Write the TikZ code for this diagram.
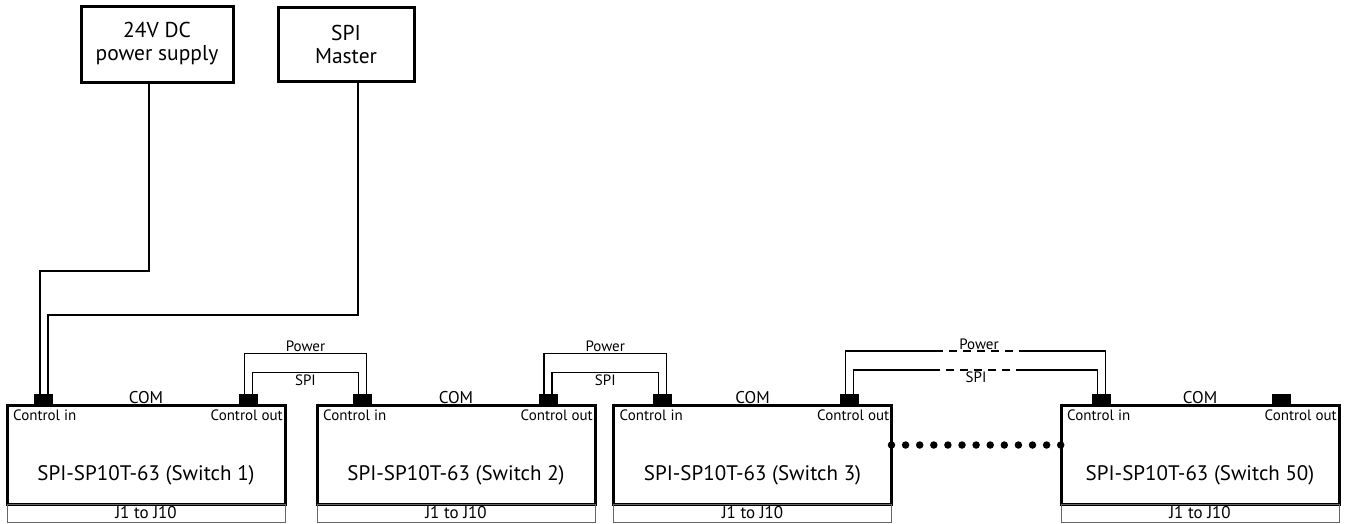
\documentclass[tikz,border=0pt]{standalone}
\usepackage{fontspec}
\setmainfont{PT Sans}
\usetikzlibrary{positioning}
\tikzstyle{switch} = [rectangle, minimum width=278pt, minimum height=99pt, draw=black, line width=3pt, outer sep=0pt]
\tikzstyle{jbox} = [rectangle, minimum width=278pt, minimum height=18pt, draw=black!60, line width=0.8pt, outer sep=0pt, inner sep=0pt, font=\fontsize{17}{17}\selectfont]
\tikzstyle{supply} = [rectangle, draw=black, line width=3pt, align=center, font=\fontsize{21.5}{23}\selectfont]
\tikzstyle{conn} = [rectangle, fill=black, minimum width=19pt, minimum height=11pt, inner sep=0pt, anchor=south]
\tikzstyle{cable} = [line width=1.5pt]
\tikzstyle{feed} = [line width=2pt]
\tikzstyle{small} = [inner sep=1pt, font=\fontsize{15}{16}\selectfont]
\tikzstyle{title} = [font=\fontsize{21}{24}\selectfont]

\begin{document}
\begin{tikzpicture}[x=1pt, y=-1pt]
		\useasboundingbox (0,0) rectangle (1346,523);
		\node (psu) [supply, minimum width=152pt, minimum height=76pt] at (157,44) {24V DC\\power supply};
		\node (spim) [supply, minimum width=136pt, minimum height=74pt] at (346,44) {SPI\\Master};

		\node (sw1) [switch] at (146,454.5) {};
		\node (sw2) [switch] at (456,454.5) {};
		\node (sw3) [switch] at (752.5,454.5) {};
		\node (sw50) [switch] at (1200,454.5) {};

		\foreach \n in {1,2,3,50} {
			\node (t\n) [title] at ([yshift=-21pt]sw\n.center) {SPI-SP10T-63 (Switch \n)};
			\node (j\n) [jbox, below=0pt of sw\n] {J1 to J10};
			\node (com\n) [small, font=\fontsize{17}{17}\selectfont, above=0pt of sw\n] {COM};
			\node (cin\n) [small, below right=4pt and 5pt of sw\n.north west] {Control in};
			\node (cout\n) [small, below left=4pt and 1pt of sw\n.north east] {Control out};
		}

		\node (in1) [conn] at (43.5,405) {};
		\node (out1) [conn] at (248.5,405) {};
		\node (in2) [conn] at (362.5,405) {};
		\node (out2) [conn] at (548,405) {};
		\node (in3) [conn] at (662.5,405) {};
		\node (out3) [conn] at (849.5,405) {};
		\node (in50) [conn] at (1101.5,405) {};
		\node (out50) [conn] at (1281.5,405) {};

		\draw [feed] ([xshift=-8pt]psu.south) -- ++(0,187) -| ([xshift=-4pt]in1.north);
		\draw [feed] ([xshift=12pt]spim.south) -- ++(0,232) -| ([xshift=4pt]in1.north);

		\draw [cable] ([xshift=-4pt]out1.north) -- ++(0,-40) -| node[pos=0.25, above, small] {Power} ([xshift=4pt]in2.north);
		\draw [cable] ([xshift=4pt]out1.north) -- ++(0,-21) -| node[pos=0.25, below, small] {SPI} ([xshift=-4pt]in2.north);
		\draw [cable] ([xshift=-4pt]out2.north) -- ++(0,-40) -| node[pos=0.25, above, small] {Power} ([xshift=4pt]in3.north);
		\draw [cable] ([xshift=4pt]out2.north) -- ++(0,-21) -| node[pos=0.25, below, small] {SPI} ([xshift=-4pt]in3.north);

		\coordinate (pw1) at (935,351);
		\coordinate (pw2) at (1023,351);
		\coordinate (sp1) at (932,370);
		\coordinate (sp2) at (1020,370);
		\draw [cable] ([xshift=-4pt]out3.north) |- (pw1);
		\draw [cable, dash pattern=on 8pt off 6pt] (pw1) -- node[above, small] {Power} (pw2);
		\draw [cable] (pw2) -| ([xshift=4pt]in50.north);
		\draw [cable] ([xshift=4pt]out3.north) |- (sp1);
		\draw [cable, dash pattern=on 8pt off 6pt] (sp1) -- node[below, small] {SPI} (sp2);
		\draw [cable] (sp2) -| ([xshift=-4pt]in50.north);

		\draw [line width=7.5pt, line cap=round, dash pattern=on 0pt off 14.1pt] ([yshift=9.5pt]sw3.east) -- ([yshift=9.5pt]sw50.west);
	  \end{tikzpicture}
\end{document}
